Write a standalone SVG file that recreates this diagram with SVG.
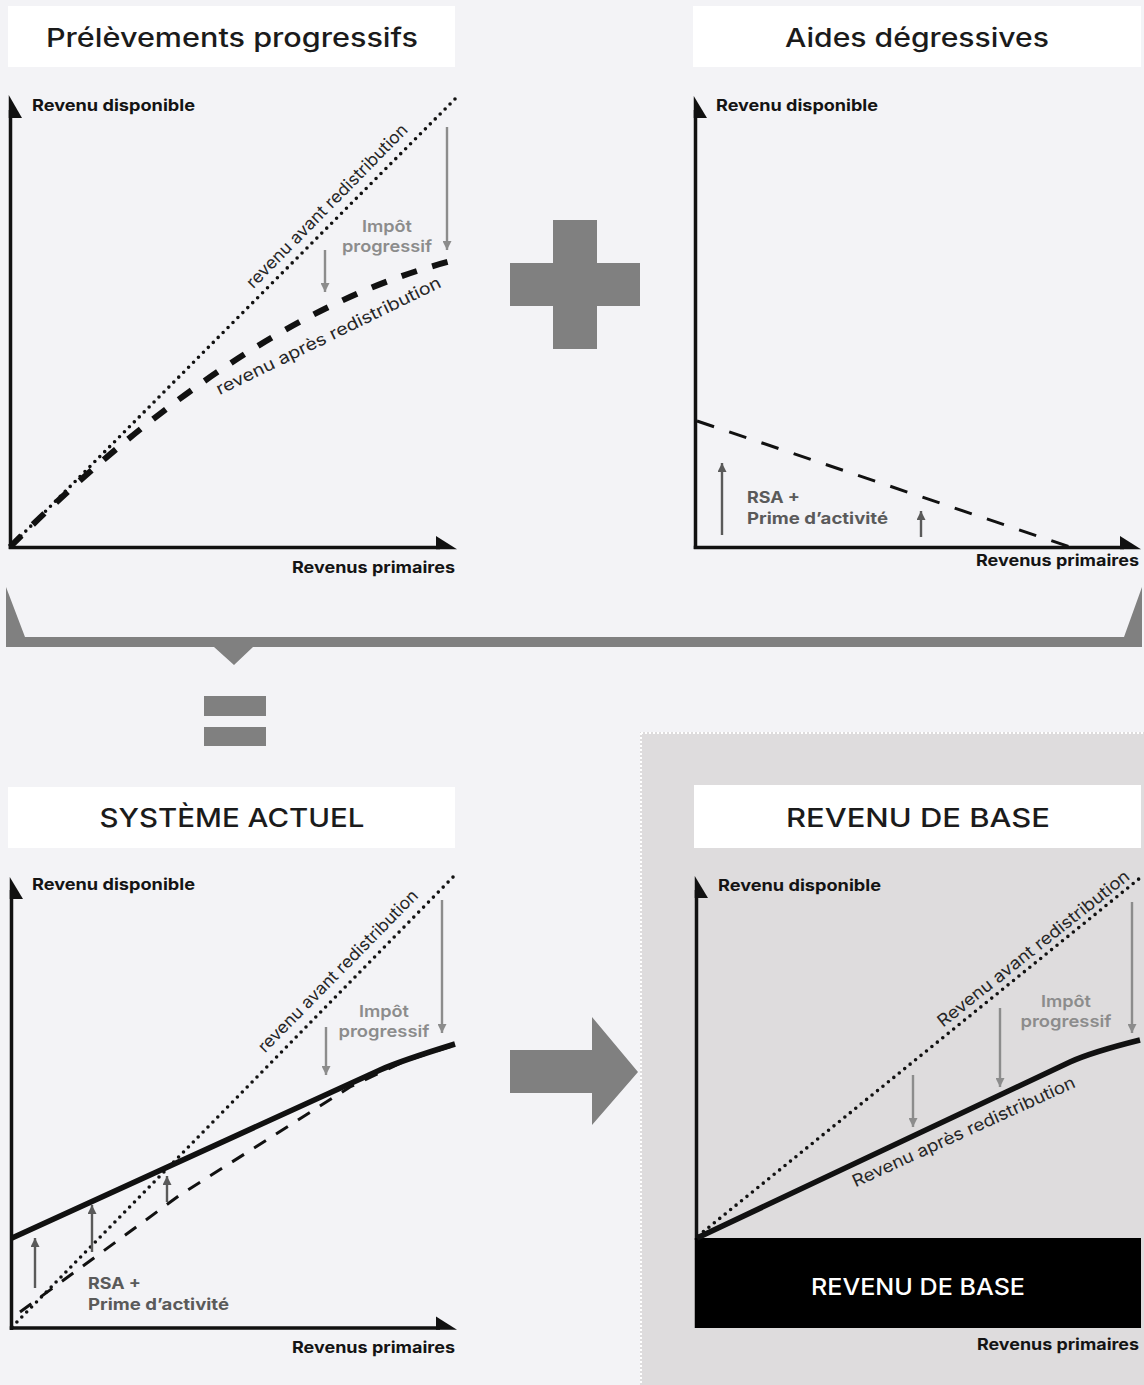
<svg xmlns="http://www.w3.org/2000/svg" width="1144" height="1385" viewBox="0 0 1144 1385">
<defs>
<style>
.title{font-family:Inter,"Liberation Sans",sans-serif;font-size:26px;font-weight:500;fill:#1b1b1b;text-anchor:middle}
.ax{font-family:Inter,"Liberation Sans",sans-serif;font-size:16px;font-weight:700;fill:#141414}
.rot{font-family:Inter,"Liberation Sans",sans-serif;font-size:17px;font-weight:400;fill:#262626;text-anchor:middle}
.imp{font-family:Inter,"Liberation Sans",sans-serif;font-size:16.5px;font-weight:600;fill:#8c8c8c;text-anchor:middle}
.rsa{font-family:Inter,"Liberation Sans",sans-serif;font-size:16px;font-weight:700;fill:#5a5a5a}
.axis{stroke:#111;stroke-width:3.5;fill:none}
.axhead{fill:#111}
.dot{stroke:#111;stroke-width:3.6;stroke-dasharray:0 7;stroke-linecap:round;fill:none}
.arrG{stroke:#8c8c8c;stroke-width:2.4;marker-end:url(#hG);fill:none}
.arrD{stroke:#5a5a5a;stroke-width:2.4;marker-end:url(#hD);fill:none}
.box{fill:#ffffff}
.op{fill:#808080}
</style>
<marker id="hG" viewBox="0 0 10 10" refX="10" refY="5" markerUnits="userSpaceOnUse" markerWidth="9" markerHeight="9" orient="auto">
<path d="M0,0 L10,5 L0,10 z" fill="#8c8c8c"/>
</marker>
<marker id="hD" viewBox="0 0 10 10" refX="10" refY="5" markerUnits="userSpaceOnUse" markerWidth="9" markerHeight="9" orient="auto">
<path d="M0,0 L10,5 L0,10 z" fill="#5a5a5a"/>
</marker>
</defs>

<rect x="0" y="0" width="1144" height="1385" fill="#f3f3f6"/>

<!-- gray panel for revenu de base -->
<g id="panel-rdb">
<rect x="640" y="732" width="504" height="653" fill="#dedcdd"/>
<path d="M641,733 H1144 M641,733 V1385" stroke="#ffffff" stroke-width="2" stroke-dasharray="2 2" fill="none"/>
</g>

<!-- Top-left: Prélèvements progressifs -->
<g id="chart-prelevements">
<rect class="box" x="8" y="6" width="447" height="61"/>
<text class="title" x="232" y="47" textLength="372" lengthAdjust="spacingAndGlyphs">Prélèvements progressifs</text>
<line class="axis" x1="10.5" y1="110" x2="10.5" y2="549"/>
<polygon class="axhead" points="8.75,95 22,118 8.75,118"/>
<line class="axis" x1="8.75" y1="547.5" x2="440" y2="547.5"/>
<polygon class="axhead" points="436,536 457,549.25 436,549.25"/>
<text class="ax" x="32" y="111" textLength="163" lengthAdjust="spacingAndGlyphs">Revenu disponible</text>
<text class="ax" x="292" y="573" textLength="163" lengthAdjust="spacingAndGlyphs">Revenus primaires</text>
<line class="dot" x1="11" y1="546" x2="457" y2="97"/>
<path d="M10,547 Q244,313 455,260" stroke="#111" stroke-width="6" stroke-dasharray="16 16" fill="none"/>
<text class="rot" transform="translate(331,210) rotate(-45.5)" textLength="222" lengthAdjust="spacingAndGlyphs">revenu avant redistribution</text>
<text class="rot" transform="translate(331,341) rotate(-26)" textLength="248" lengthAdjust="spacingAndGlyphs">revenu après redistribution</text>
<text class="imp" x="387" y="232" textLength="50" lengthAdjust="spacingAndGlyphs">Impôt</text>
<text class="imp" x="387" y="252" textLength="90" lengthAdjust="spacingAndGlyphs">progressif</text>
<line class="arrG" x1="447" y1="127" x2="447" y2="250"/>
<line class="arrG" x1="325" y1="250" x2="325" y2="292"/>
</g>

<!-- Top-right: Aides dégressives -->
<g id="chart-aides">
<rect class="box" x="693" y="6" width="448" height="61"/>
<text class="title" x="917" y="47" textLength="264" lengthAdjust="spacingAndGlyphs">Aides dégressives</text>
<line class="axis" x1="695.5" y1="110" x2="695.5" y2="549"/>
<polygon class="axhead" points="693.75,96 707,118 693.75,118"/>
<line class="axis" x1="693.75" y1="547.5" x2="1124" y2="547.5"/>
<polygon class="axhead" points="1120,536 1141,549.25 1120,549.25"/>
<text class="ax" x="716" y="111" textLength="162" lengthAdjust="spacingAndGlyphs">Revenu disponible</text>
<text class="ax" x="976" y="566" textLength="163" lengthAdjust="spacingAndGlyphs">Revenus primaires</text>
<line x1="697" y1="421" x2="1070" y2="547" stroke="#111" stroke-width="3" stroke-dasharray="18 16" fill="none"/>
<line class="arrD" x1="722" y1="535" x2="722" y2="463"/>
<line class="arrD" x1="921" y1="537" x2="921" y2="511"/>
<text class="rsa" x="747" y="503" textLength="53" lengthAdjust="spacingAndGlyphs">RSA +</text>
<text class="rsa" x="747" y="524" textLength="141" lengthAdjust="spacingAndGlyphs">Prime d’activité</text>
</g>

<!-- Bottom-left: Système actuel -->
<g id="chart-systeme">
<rect class="box" x="8" y="787" width="447" height="61"/>
<text class="title" x="232" y="827" textLength="265" lengthAdjust="spacingAndGlyphs">SYSTÈME ACTUEL</text>
<line class="axis" x1="11.5" y1="890" x2="11.5" y2="1330"/>
<polygon class="axhead" points="9.75,877 23,899 9.75,899"/>
<line class="axis" x1="9.75" y1="1328" x2="440" y2="1328"/>
<polygon class="axhead" points="436,1316.5 457,1329.75 436,1329.75"/>
<text class="ax" x="32" y="890" textLength="163" lengthAdjust="spacingAndGlyphs">Revenu disponible</text>
<text class="ax" x="292" y="1353" textLength="163" lengthAdjust="spacingAndGlyphs">Revenus primaires</text>
<line class="dot" x1="12" y1="1327" x2="457" y2="873"/>
<path d="M20,1312 L180,1195 L350,1087 L405,1061 L455,1045" stroke="#111" stroke-width="3" stroke-dasharray="14 12" fill="none"/>
<path d="M12,1238 L380,1070 Q400,1061 455,1044" stroke="#111" stroke-width="5.5" fill="none"/>
<text class="rot" transform="translate(342,975) rotate(-45.5)" textLength="220" lengthAdjust="spacingAndGlyphs">revenu avant redistribution</text>
<text class="imp" x="384" y="1017" textLength="50" lengthAdjust="spacingAndGlyphs">Impôt</text>
<text class="imp" x="384" y="1037" textLength="91" lengthAdjust="spacingAndGlyphs">progressif</text>
<line class="arrG" x1="442" y1="900" x2="442" y2="1033"/>
<line class="arrG" x1="326" y1="1027" x2="326" y2="1075"/>
<line class="arrD" x1="35" y1="1288" x2="35" y2="1238"/>
<line class="arrD" x1="92" y1="1252" x2="92" y2="1205"/>
<line class="arrD" x1="167" y1="1202" x2="167" y2="1176"/>
<text class="rsa" x="88" y="1289" textLength="53" lengthAdjust="spacingAndGlyphs">RSA +</text>
<text class="rsa" x="88" y="1310" textLength="141" lengthAdjust="spacingAndGlyphs">Prime d’activité</text>
</g>

<!-- Bottom-right: Revenu de base -->
<g id="chart-revenu-base">
<rect class="box" x="694" y="785" width="447" height="63"/>
<text class="title" x="918" y="827" textLength="264" lengthAdjust="spacingAndGlyphs">REVENU DE BASE</text>
<line class="axis" x1="696.5" y1="890" x2="696.5" y2="1240"/>
<polygon class="axhead" points="694.75,876 708,898 694.75,898"/>
<rect x="694.75" y="1238" width="446.25" height="90" fill="#000"/>
<text x="918" y="1295" textLength="214" lengthAdjust="spacingAndGlyphs" style="font-family:Inter,'Liberation Sans',sans-serif;font-size:23px;font-weight:500;fill:#ffffff;text-anchor:middle">REVENU DE BASE</text>
<text class="ax" x="718" y="891" textLength="163" lengthAdjust="spacingAndGlyphs">Revenu disponible</text>
<text class="ax" x="977" y="1350" textLength="162" lengthAdjust="spacingAndGlyphs">Revenus primaires</text>
<line class="dot" x1="698" y1="1236" x2="1140" y2="878"/>
<path d="M697,1238 L1070,1062 Q1092,1052 1140,1040" stroke="#111" stroke-width="5.5" fill="none"/>
<text class="rot" transform="translate(1037,953) rotate(-38.5)" textLength="240" lengthAdjust="spacingAndGlyphs">Revenu avant redistribution</text>
<text class="rot" transform="translate(966,1137) rotate(-24.5)" textLength="243" lengthAdjust="spacingAndGlyphs">Revenu après redistribution</text>
<text class="imp" x="1066" y="1007" textLength="50" lengthAdjust="spacingAndGlyphs">Impôt</text>
<text class="imp" x="1066" y="1027" textLength="91" lengthAdjust="spacingAndGlyphs">progressif</text>
<line class="arrG" x1="913" y1="1075" x2="913" y2="1127"/>
<line class="arrG" x1="1000" y1="1008" x2="1000" y2="1087"/>
<line class="arrG" x1="1132" y1="902" x2="1132" y2="1033"/>
</g>

<!-- Connectors / operators -->
<g id="connectors">
<g id="plus">
<rect class="op" x="553" y="220" width="44" height="129"/>
<rect class="op" x="510" y="263" width="130" height="43"/>
</g>
<polygon id="bracket" class="op" points="6,587 25,637 1124,637 1142,587 1142,647 253,647 234,665 214,647 6,647"/>
<g id="equals">
<rect class="op" x="204" y="696" width="62" height="20"/>
<rect class="op" x="204" y="727" width="62" height="19"/>
</g>
<polygon id="arrow-right" class="op" points="510,1050 592,1050 592,1017 638,1072 592,1125 592,1093 510,1093"/>
</g>
</svg>
